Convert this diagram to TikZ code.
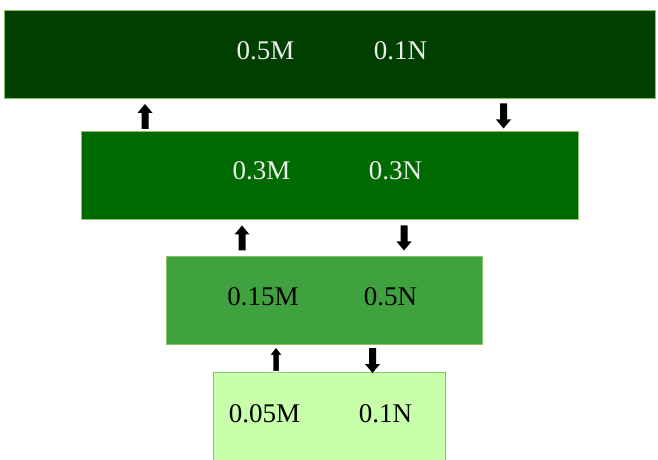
\documentclass[tikz,border=0pt]{standalone}
\usepackage{fontspec}
\setmainfont{Liberation Serif}
\definecolor{gA}{HTML}{003F00}
\definecolor{gB}{HTML}{006A00}
\definecolor{gC}{HTML}{3FA23F}
\definecolor{gD}{HTML}{C8FFAA}
\definecolor{edge}{HTML}{86C466}
\tikzset{
  layer/.style={draw=edge, line width=1bp, inner sep=0pt, anchor=north west},
  val/.style={font=\fontsize{27bp}{30bp}\selectfont, inner sep=0pt, anchor=center},
  blockup/.pic={\fill[black] (0,-12.5) -- (7.5,-3.5) -- (3.5,-3.5) -- (3.5,12.5)
      -- (-3.5,12.5) -- (-3.5,-3.5) -- (-7.5,-3.5) -- cycle;},
  blockdown/.pic={\fill[black] (0,12.5) -- (7.5,3.5) -- (3.5,3.5) -- (3.5,-12.5)
      -- (-3.5,-12.5) -- (-3.5,3.5) -- (-7.5,3.5) -- cycle;},
  blockupw/.pic={\filldraw[black, draw=white, line width=1.5bp] (0,-12.5) -- (7,-3.5) -- (3.5,-3.5) -- (3.5,12.5)
      -- (-3.5,12.5) -- (-3.5,-3.5) -- (-7,-3.5) -- cycle;}
}
\begin{document}
\begin{tikzpicture}[x=1bp,y=-1bp]
\useasboundingbox (0,0) rectangle (658,460);
\clip (0,0) rectangle (658,460);
\fill[white] (0,0) rectangle (658,460);
\node[layer, fill=gA, minimum width=651bp, minimum height=88bp] (b1) at (4,10) {};
\node[layer, fill=gB, minimum width=497bp, minimum height=88bp] (b2) at (81,131) {};
\node[layer, fill=gC, minimum width=316bp, minimum height=88bp] (b3) at (166,256) {};
\node[layer, fill=gD, minimum width=232bp, minimum height=100bp] (b4) at (213,372) {};
\node[val, text=white!93!black] (t1m) at (265.5,51) {0.5M};
\node[val, text=white!93!black] (t1n) at (400.5,51) {0.1N};
\node[val, text=white!93!black] (t2m) at (261.5,171) {0.3M};
\node[val, text=white!93!black] (t2n) at (395.5,171) {0.3N};
\node[val, text=black] (t3m) at (263,296.5) {0.15M};
\node[val, text=black] (t3n) at (390.5,296.5) {0.5N};
\node[val, text=black] (t4m) at (264.5,414) {0.05M};
\node[val, text=black] (t4n) at (385.5,414) {0.1N};
\pic at (145,116.5) {blockup};
\pic at (503.5,116) {blockdown};
\pic at (242,238) {blockup};
\pic at (404,238) {blockdown};
\pic at (276,359) {blockupw};
\pic at (372.5,360.5) {blockdown};
\end{tikzpicture}
\end{document}
